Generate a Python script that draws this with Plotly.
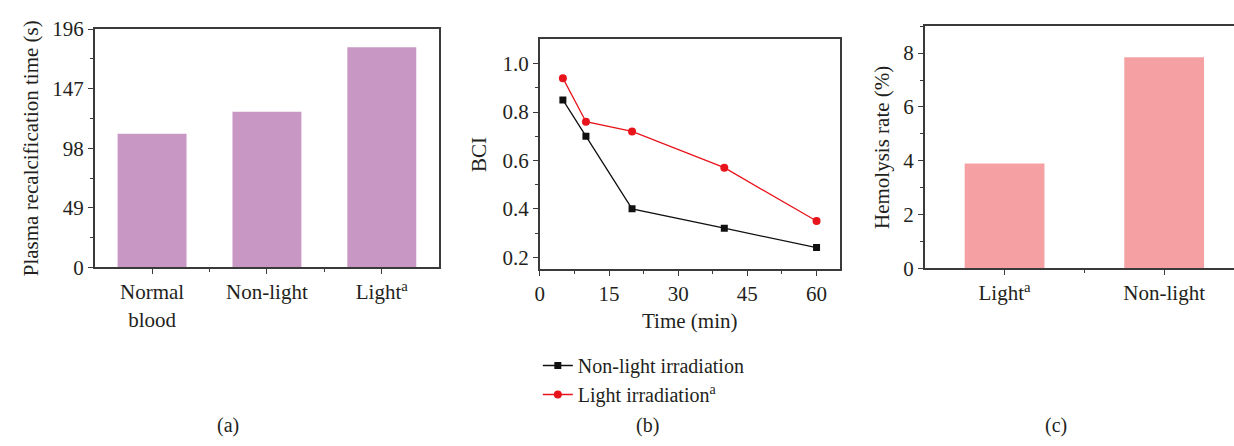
import plotly.graph_objects as go

# Panel (a): plasma recalcification time
recalc_groups = ["Normal<br>blood", "Non-light", "Light<sup>a</sup>"]
recalc_time = [110, 128, 181]

# Panel (b): blood clotting index over time
time_min = [5, 10, 20, 40, 60]
bci_nonlight = [0.85, 0.70, 0.40, 0.32, 0.24]
bci_light = [0.94, 0.76, 0.72, 0.57, 0.35]

# Panel (c): hemolysis rate
hemo_groups = ["Light<sup>a</sup>", "Non-light"]
hemo_rate = [3.9, 7.85]

FONT = "Liberation Serif"
TXT = "#231f20"
AX = "#3a3a3a"
W, H = 1234, 446

fig = go.Figure()

fig.add_trace(go.Bar(
    x=list(range(len(recalc_groups))), y=recalc_time, width=0.6,
    marker=dict(color="#c897c3", line=dict(width=0)),
    xaxis="x", yaxis="y", showlegend=False,
))

fig.add_trace(go.Scatter(
    x=time_min, y=bci_nonlight, mode="lines+markers", name="Non-light irradiation",
    line=dict(color="#111111", width=1.3),
    marker=dict(symbol="square", size=7, color="#111111"),
    xaxis="x2", yaxis="y2",
))
fig.add_trace(go.Scatter(
    x=time_min, y=bci_light, mode="lines+markers", name="Light irradiation<sup>a</sup>",
    line=dict(color="#e8141c", width=1.3),
    marker=dict(symbol="circle", size=8, color="#e8141c"),
    xaxis="x2", yaxis="y2",
))

fig.add_trace(go.Bar(
    x=list(range(len(hemo_groups))), y=hemo_rate, width=0.5,
    marker=dict(color="#f5a1a4", line=dict(width=0)),
    xaxis="x3", yaxis="y3", showlegend=False,
))


def px_x(a, b):
    return [a / W, b / W]


def px_y(top, bottom):
    return [1 - bottom / H, 1 - top / H]


tick_font = dict(family=FONT, size=21, color=TXT)
title_font = dict(family=FONT, size=21, color=TXT)
common = dict(
    showline=True, linecolor=AX, linewidth=1.6, ticks="outside", ticklen=5,
    tickwidth=1.4, tickcolor=AX, showgrid=False, zeroline=False,
    tickfont=tick_font,
)

fig.update_layout(
    width=W, height=H, margin=dict(l=0, r=0, t=0, b=0),
    paper_bgcolor="white", plot_bgcolor="white",
    font=dict(family=FONT, color=TXT),
    xaxis=dict(domain=px_x(90, 436), anchor="y", range=[-0.5, 2.5],
               tickvals=list(range(len(recalc_groups))), ticktext=recalc_groups,
               mirror=True,
               minor=dict(tickvals=[0.5, 1.5], ticks="outside", ticklen=3, tickcolor=AX),
               **common),
    yaxis=dict(domain=px_y(18, 270), anchor="x", range=[0, 196], dtick=49,
               title=dict(text="Plasma recalcification time (s)", font=title_font, standoff=8),
               mirror=True,
               minor=dict(dtick=24.5, ticks="outside", ticklen=3, tickcolor=AX),
               **common),
    xaxis2=dict(domain=px_x(537, 838), anchor="y2", range=[0, 65], dtick=15,
                title=dict(text="Time (min)", font=title_font, standoff=8),
                mirror=True,
                minor=dict(dtick=7.5, ticks="outside", ticklen=3, tickcolor=AX),
                **common),
    yaxis2=dict(domain=px_y(29, 272), anchor="x2", range=[0.15, 1.1],
                tickvals=[0.2, 0.4, 0.6, 0.8, 1.0], tickformat=".1f",
                title=dict(text="BCI", font=title_font, standoff=10),
                mirror=True,
                minor=dict(tickvals=[0.3, 0.5, 0.7, 0.9], ticks="outside", ticklen=3, tickcolor=AX),
                **common),
    xaxis3=dict(domain=[923.5 / W, 1], anchor="y3", range=[-0.5, 1.4375],
                tickvals=list(range(len(hemo_groups))), ticktext=hemo_groups,
                mirror=True,
                minor=dict(tickvals=[0.5], ticks="outside", ticklen=3, tickcolor=AX),
                **common),
    yaxis3=dict(domain=px_y(15, 271), anchor="x3", range=[0, 9], dtick=2,
                title=dict(text="Hemolysis rate (%)", font=title_font, standoff=8),
                mirror=False,
                minor=dict(dtick=1, ticks="outside", ticklen=3, tickcolor=AX),
                **common),
    legend=dict(x=535 / W, y=1 - 353 / H, xanchor="left", yanchor="top",
                font=dict(family=FONT, size=20, color=TXT),
                bgcolor="rgba(0,0,0,0)", tracegroupgap=0, itemwidth=30),
    showlegend=True,
)

for label, xc in [("(a)", 224), ("(b)", 645), ("(c)", 1055)]:
    fig.add_annotation(text=label, x=xc / W, y=1 - 437 / H, xref="paper", yref="paper",
                       showarrow=False, font=dict(family=FONT, size=20, color=TXT),
                       xanchor="center", yanchor="middle")

fig.write_html("out.html")
